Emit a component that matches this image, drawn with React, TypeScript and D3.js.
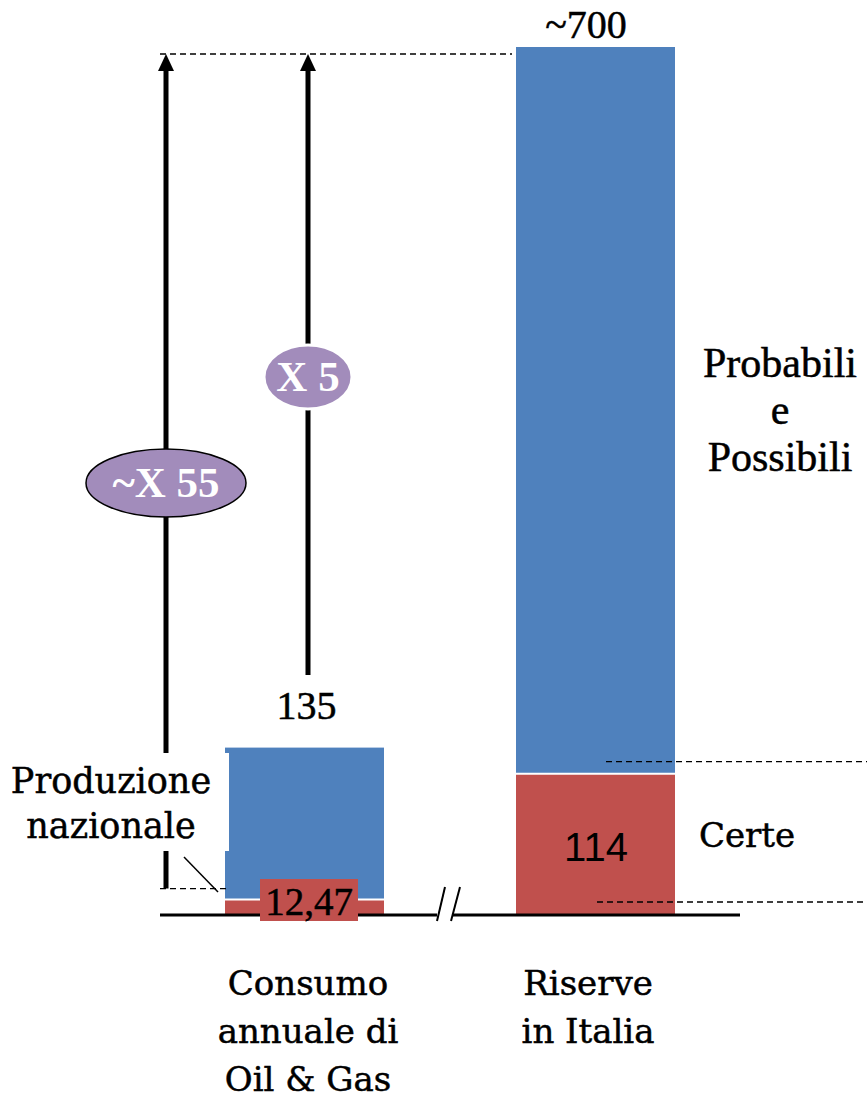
import * as d3 from 'd3'

// categories and values
const categories = ['Consumo annuale di Oil & Gas', 'Riserve in Italia']
const categoryLines = [['Consumo', 'annuale di', 'Oil & Gas'], ['Riserve', 'in Italia']]
const baseValues = [12.47, 114] // produzione nazionale / riserve certe
const totalValues = [135, 700] // consumo annuale / riserve totali
const baseLabels = ['12,47', '114']
const totalLabels = ['135', '~700']
const multipliers = ['~X 55', 'X 5']
const reserveLabels = ['Probabili', 'e', 'Possibili']
const certeLabel = 'Certe'
const productionLines = ['Produzione', 'nazionale']

const BLUE = '#4f81bd'
const RED = '#c0504d'
const PURPLE = '#a28cbb'
const SERIF = '"Liberation Serif", "Times New Roman", serif'
const SERIF_WIDE = '"DejaVu Serif", serif'

export default function App() {
  const width = 867
  const height = 1100
  const baseline = 915
  const barWidth = 159

  const y = d3.scaleLinear().domain([0, 700]).range([baseline, 47])
  const x = d3.scalePoint<string>().domain(categories).range([304.5, 595.5])

  const leftX = x(categories[0]) ?? 0
  const rightX = x(categories[1]) ?? 0
  const arrowTop = 54
  const arrow1X = 166
  const arrow2X = 308
  const prodLevel = y(baseValues[0]) - 11
  const ink = { fill: '#000', stroke: '#000', strokeWidth: 0.5 }

  return (
    <div style={{ position: 'absolute', left: 0, top: 0 }}>
      <svg width={width} height={height} viewBox={`0 0 ${width} ${height}`} style={{ display: 'block' }}>
        <rect width={width} height={height} fill="#fff" />

        {/* bars */}
        {categories.map((cat, i) => {
          const cx = x(cat) ?? 0
          return (
            <g key={cat}>
              <rect
                x={cx - barWidth / 2}
                y={y(totalValues[i])}
                width={barWidth}
                height={y(baseValues[i]) - y(totalValues[i])}
                fill={BLUE}
              />
              <rect
                x={cx - barWidth / 2}
                y={y(baseValues[i])}
                width={barWidth}
                height={y(0) - y(baseValues[i])}
                fill={RED}
              />
              <line
                x1={cx - barWidth / 2}
                x2={cx + barWidth / 2}
                y1={y(baseValues[i])}
                y2={y(baseValues[i])}
                stroke="#fff"
                strokeWidth="2"
              />
            </g>
          )
        })}

        {/* dashed reference lines */}
        <g stroke="#000" strokeWidth="1.3" strokeDasharray="6 4" fill="none">
          <line x1={160} x2={rightX - barWidth / 2 - 4} y1={arrowTop} y2={arrowTop} />
          <line x1={160} x2={leftX - barWidth / 2 + 4} y1={prodLevel} y2={prodLevel} />
          <line x1={606} x2={width} y1={y(baseValues[1]) - 12} y2={y(baseValues[1]) - 12} />
          <line x1={597} x2={width} y1={y(0) - 13} y2={y(0) - 13} />
        </g>

        {/* axis with break */}
        <g stroke="#000" strokeWidth="3">
          <line x1={160} x2={437} y1={baseline} y2={baseline} />
          <line x1={453} x2={740} y1={baseline} y2={baseline} />
        </g>
        <g stroke="#000" strokeWidth="2">
          <line x1={437} y1={921} x2={445} y2={887} />
          <line x1={451} y1={921} x2={460} y2={887} />
        </g>

        {/* arrows */}
        <g stroke="#000" strokeWidth="5">
          <line x1={arrow1X} x2={arrow1X} y1={prodLevel} y2={arrowTop + 12} />
          <line x1={arrow2X} x2={arrow2X} y1={675} y2={arrowTop + 12} />
        </g>
        {[arrow1X, arrow2X].map((ax) => (
          <path key={ax} d={`M${ax},${arrowTop} L${ax - 8},${arrowTop + 17} L${ax + 8},${arrowTop + 17} Z`} fill="#000" />
        ))}

        {/* multiplier ellipses */}
        <ellipse cx={arrow1X} cy={483} rx={80} ry={34} fill={PURPLE} stroke="#000" strokeWidth="1.5" />
        <text x={arrow1X} y={497} textAnchor="middle" fontFamily={SERIF} fontWeight="bold" fontSize="43" fill="#fff">
          {multipliers[0]}
        </text>
        <ellipse cx={arrow2X} cy={377} rx={44} ry={32} fill={PURPLE} stroke="#fff" strokeWidth="3" />
        <text x={arrow2X} y={391} textAnchor="middle" fontFamily={SERIF} fontWeight="bold" fontSize="43" fill="#fff">
          {multipliers[1]}
        </text>

        {/* production label */}
        <rect x={0} y={753} width={229} height={98} fill="#fff" />
        {productionLines.map((t, i) => (
          <text key={t} x={111} y={793 + i * 45} textAnchor="middle" fontFamily={SERIF_WIDE} fontSize="35" {...ink}>
            {t}
          </text>
        ))}
        <line x1={184} y1={857} x2={218} y2={892} stroke="#000" strokeWidth="1.5" />

        {/* value labels */}
        <text x={306.5} y={719} textAnchor="middle" fontFamily={SERIF} fontSize="40" {...ink}>
          {totalLabels[0]}
        </text>
        <text x={586} y={38} textAnchor="middle" fontFamily={SERIF} fontSize="40" {...ink}>
          {totalLabels[1]}
        </text>
        <rect x={260} y={879} width={98} height={42} fill={RED} />
        <text x={309} y={915} textAnchor="middle" fontFamily={SERIF} fontSize="39" {...ink}>
          {baseLabels[0]}
        </text>
        <text x={596} y={861} textAnchor="middle" fontFamily='"Liberation Sans", Arial, sans-serif' fontSize="40" fill="#000">
          {baseLabels[1]}
        </text>

        {/* right-side annotations */}
        {reserveLabels.map((t, i) => (
          <text key={t} x={780} y={377 + i * 47} textAnchor="middle" fontFamily={SERIF} fontSize="42" {...ink}>
            {t}
          </text>
        ))}
        <text x={747} y={847} textAnchor="middle" fontFamily={SERIF_WIDE} fontSize="34" {...ink}>
          {certeLabel}
        </text>

        {/* category labels */}
        {categoryLines.map((lines, i) =>
          lines.map((t, j) => (
            <text
              key={`${i}-${j}`}
              x={i === 0 ? 308 : 588}
              y={995 + j * 48}
              textAnchor="middle"
              fontFamily={SERIF_WIDE}
              fontSize="34"
              {...ink}
            >
              {t}
            </text>
          ))
        )}
      </svg>
    </div>
  )
}
